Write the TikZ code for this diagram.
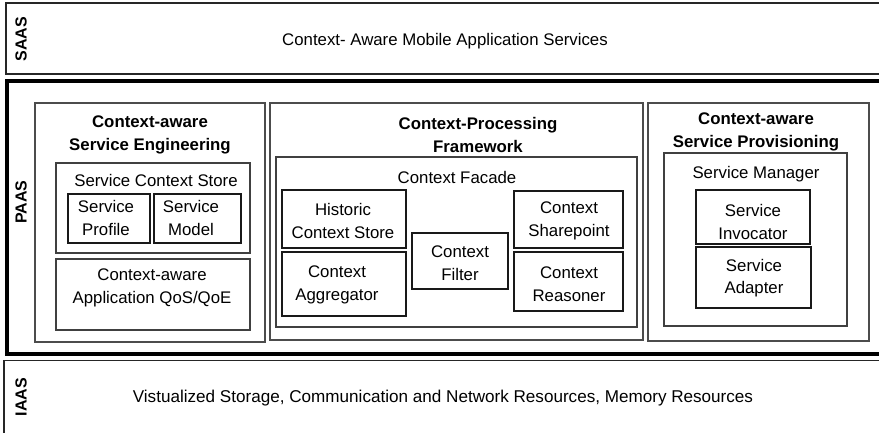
\documentclass[tikz,border=0pt]{standalone}
\usepackage{fontspec}
\setmainfont{Liberation Sans}
\begin{document}
\begin{tikzpicture}[x=1pt,y=-1pt,
  txt/.style={inner sep=0pt, align=center, font=\fontsize{16.8}{22.5}\selectfont},
  head/.style={txt, font=\fontsize{16.8}{22.5}\selectfont\bfseries},
  tier/.style={inner sep=0pt, rotate=90, font=\fontsize{16}{19}\selectfont\bfseries},
  layer/.style={draw=black!85, line width=1.6pt},
  core/.style={draw=black, line width=4pt},
  column/.style={draw=black!70, line width=1.3pt},
  group/.style={draw=black!75, line width=1.3pt},
  part/.style={draw=black!90, line width=1.7pt}]
\useasboundingbox (0,0) rectangle (879,432);
\clip (0,0) rectangle (879,432);
\fill[white] (0,0) rectangle (879,432);

% service tiers
\draw[layer] (6,3) rectangle (890,74);
\draw[core]  (6.5,80.5) rectangle (890,354);
\draw[layer] (4,360.5) rectangle (890,445);

\node[tier] (saas) at (21,39) {SAAS};
\node[tier] (paas) at (21,202) {PAAS};
\node[tier] (iaas) at (21,397) {IAAS};

\node[txt] (apps) at (445,41) {Context- Aware Mobile Application Services};
\node[txt, font=\fontsize{17.1}{22.5}\selectfont] (infra) at (443,398) {Vistualized Storage, Communication and Network Resources, Memory Resources};

% service engineering column
\draw[column] (35,103) rectangle (265,342);
\node[head] (seng) at (150,135) {Context-aware\\Service Engineering};
\draw[group] (56,163) rectangle (250,253);
\node[txt] (scs) at (156,180) {Service Context Store};
\draw[part] (68,194) rectangle (150,243);
\node[txt] (sprof) at (106,218) {Service\\Profile};
\draw[part] (154,194) rectangle (241,243);
\node[txt] (smod) at (191,218) {Service\\Model};
\draw[group] (56,259) rectangle (250,330);
\node[txt] (qos) at (152,288) {Context-aware\\Application QoS/QoE};

% processing framework column
\draw[column] (270,103) rectangle (643,340);
\node[head] (cpf) at (478,135) {Context-Processing\\Framework};
\draw[group] (276,157) rectangle (637,327);
\node[txt] (facade) at (457,177) {Context Facade};
\draw[part] (282,190) rectangle (406,248);
\node[txt] (hist) at (343,221) {Historic\\Context Store};
\draw[part] (282,252) rectangle (406,316);
\node[txt] (aggr) at (337,285) {Context\\Aggregator};
\draw[part] (412,233) rectangle (508,289);
\node[txt] (filt) at (460,263) {Context\\Filter};
\draw[part] (514,191) rectangle (623,248);
\node[txt] (share) at (569,221) {Context\\Sharepoint};
\draw[part] (514,252) rectangle (623,311);
\node[txt] (reas) at (569,284) {Context\\Reasoner};

% service provisioning column
\draw[column] (648,103) rectangle (869,341);
\node[head] (sprov) at (756,132) {Context-aware\\Service Provisioning};
\draw[group] (664,153) rectangle (847,326);
\node[txt] (smgr) at (756,174) {Service Manager};
\draw[part] (696,190) rectangle (810,244);
\node[txt] (invo) at (753,222) {Service\\Invocator};
\draw[part] (696,247) rectangle (811,308);
\node[txt] (adapt) at (754,278) {Service\\Adapter};
\end{tikzpicture}
\end{document}
